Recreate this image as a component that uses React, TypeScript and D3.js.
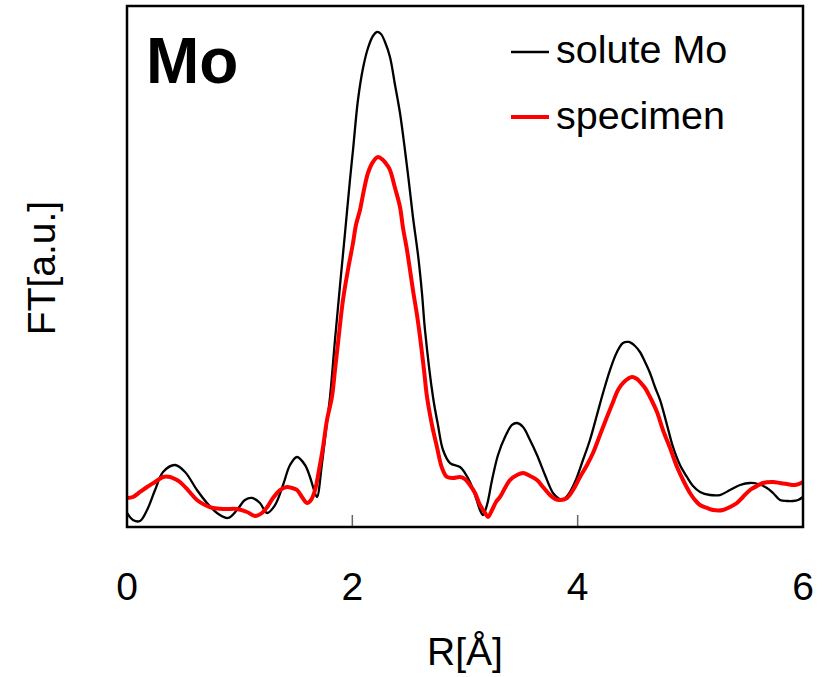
import React from "react";
import * as d3 from "d3";

// Fourier-transform magnitude (arbitrary units) vs radial distance R [Å]
const soluteR = [0, 0.053, 0.115, 0.178, 0.249, 0.32, 0.426, 0.515, 0.621, 0.71, 0.799, 0.896, 0.976, 1.047, 1.109, 1.18, 1.243, 1.314, 1.385, 1.447, 1.509, 1.58, 1.624, 1.66, 1.686, 1.731, 1.766, 1.802, 1.846, 1.891, 1.935, 1.979, 2.006, 2.05, 2.095, 2.139, 2.183, 2.219, 2.254, 2.29, 2.334, 2.379, 2.423, 2.467, 2.503, 2.538, 2.583, 2.618, 2.645, 2.716, 2.76, 2.805, 2.867, 2.956, 3.0, 3.044, 3.089, 3.133, 3.16, 3.195, 3.24, 3.293, 3.355, 3.417, 3.462, 3.515, 3.577, 3.639, 3.71, 3.781, 3.825, 3.861, 3.914, 3.976, 4.047, 4.109, 4.171, 4.225, 4.287, 4.349, 4.402, 4.455, 4.509, 4.553, 4.598, 4.642, 4.686, 4.731, 4.793, 4.846, 4.908, 4.97, 5.024, 5.086, 5.175, 5.263, 5.352, 5.441, 5.53, 5.601, 5.68, 5.734, 5.796, 5.858, 5.911, 5.956, 6.0];
const soluteFT = [2.69, 1.34, 1.15, 3.26, 7.1, 10.56, 11.9, 10.56, 7.1, 4.61, 2.69, 1.73, 3.26, 5.18, 5.57, 4.61, 2.69, 4.22, 8.06, 11.9, 13.44, 11.9, 9.6, 7.1, 5.76, 12.28, 18.62, 24.95, 35.89, 46.45, 56.43, 66.6, 72.36, 81.96, 88.1, 91.94, 94.24, 95.01, 94.63, 93.09, 90.21, 84.84, 79.46, 72.36, 66.03, 59.5, 52.21, 44.91, 37.81, 24.95, 19.58, 14.78, 12.28, 11.52, 10.36, 8.64, 6.14, 3.26, 2.3, 4.22, 9.02, 13.82, 17.27, 19.58, 19.96, 19.19, 16.7, 13.82, 9.98, 6.53, 5.57, 5.18, 6.14, 8.64, 12.86, 16.7, 21.5, 25.72, 30.13, 33.59, 35.32, 35.51, 34.74, 33.59, 31.67, 29.56, 26.87, 24.38, 19.58, 15.36, 11.9, 9.6, 7.87, 6.72, 6.14, 6.14, 7.1, 8.06, 8.45, 8.25, 7.49, 6.53, 5.18, 4.99, 4.99, 5.18, 5.76];

const specimenR = [0, 0.053, 0.115, 0.178, 0.249, 0.32, 0.382, 0.426, 0.47, 0.541, 0.621, 0.692, 0.763, 0.87, 0.976, 1.065, 1.136, 1.198, 1.251, 1.296, 1.358, 1.42, 1.464, 1.509, 1.553, 1.598, 1.633, 1.669, 1.704, 1.74, 1.775, 1.819, 1.846, 1.873, 1.917, 1.961, 2.006, 2.032, 2.068, 2.103, 2.139, 2.183, 2.228, 2.272, 2.308, 2.334, 2.379, 2.423, 2.45, 2.485, 2.512, 2.538, 2.574, 2.601, 2.636, 2.663, 2.707, 2.751, 2.796, 2.84, 2.893, 2.956, 3.0, 3.044, 3.089, 3.133, 3.178, 3.204, 3.24, 3.275, 3.311, 3.355, 3.399, 3.462, 3.515, 3.577, 3.639, 3.692, 3.754, 3.799, 3.843, 3.905, 3.959, 4.021, 4.083, 4.136, 4.198, 4.26, 4.314, 4.358, 4.411, 4.482, 4.527, 4.553, 4.598, 4.642, 4.704, 4.757, 4.82, 4.882, 4.944, 4.997, 5.041, 5.086, 5.148, 5.201, 5.29, 5.352, 5.414, 5.467, 5.53, 5.592, 5.645, 5.734, 5.796, 5.858, 5.929, 6.0];
const specimenFT = [5.57, 5.76, 6.72, 7.68, 8.64, 9.6, 9.6, 9.21, 8.64, 7.1, 5.18, 4.22, 3.65, 3.45, 3.45, 2.88, 2.11, 2.69, 4.03, 5.57, 7.1, 7.68, 7.49, 7.1, 5.76, 4.61, 5.18, 7.1, 10.94, 15.36, 20.54, 24.95, 30.13, 35.32, 43.57, 49.33, 54.51, 57.97, 60.84, 64.68, 67.95, 70.06, 71.02, 70.44, 69.48, 68.52, 65.07, 61.42, 57.39, 53.17, 49.33, 45.49, 40.69, 36.47, 30.13, 24.95, 19.58, 15.36, 11.32, 9.6, 9.4, 9.6, 9.21, 8.06, 6.53, 4.22, 2.69, 1.92, 3.26, 4.8, 5.76, 7.49, 9.02, 9.98, 10.36, 9.79, 9.02, 7.68, 6.14, 5.37, 5.18, 5.57, 7.1, 9.6, 11.9, 14.2, 17.66, 21.11, 23.99, 26.3, 27.83, 28.79, 28.41, 27.83, 26.68, 24.95, 22.07, 18.62, 15.16, 11.52, 8.64, 6.53, 5.18, 4.22, 3.65, 3.26, 3.26, 3.84, 4.61, 5.76, 7.1, 7.87, 8.45, 8.64, 8.45, 8.25, 8.06, 8.64];

const xTicks = [0, 2, 4, 6];
const seriesNames = ["solute Mo", "specimen"];
const seriesColors = ["#000000", "#ff0000"];
const panelLabel = "Mo";

const W = 827;
const H = 677;
const plot = { left: 127, right: 803, top: 6, bottom: 527 };
const font = "'Liberation Sans', Arial, Helvetica, sans-serif";

export default function App() {
  const x = d3.scaleLinear().domain([0, 6]).range([plot.left, plot.right]);
  const y = d3.scaleLinear().domain([0, 100]).range([plot.bottom, plot.top]);

  const line = d3
    .line<[number, number]>()
    .x((d) => x(d[0]))
    .y((d) => y(d[1]))
    .curve(d3.curveCatmullRom.alpha(0.5));

  const solute = soluteR.map((r, i) => [r, soluteFT[i]] as [number, number]);
  const specimen = specimenR.map((r, i) => [r, specimenFT[i]] as [number, number]);

  return (
    <svg
      width={W}
      height={H}
      style={{ position: "absolute", left: 0, top: 0, background: "#fff" }}
      fontFamily={font}
    >
      <defs>
        <clipPath id="plot-clip">
          <rect
            x={plot.left}
            y={plot.top}
            width={plot.right - plot.left}
            height={plot.bottom - plot.top}
          />
        </clipPath>
      </defs>
      <rect x={0} y={0} width={W} height={H} fill="#fff" />

      {/* inner ticks */}
      {xTicks.slice(1, -1).map((t) => (
        <line
          key={t}
          x1={x(t)}
          x2={x(t)}
          y1={plot.bottom}
          y2={plot.bottom - 12}
          stroke="#666"
          strokeWidth={1.5}
        />
      ))}

      <g clipPath="url(#plot-clip)">
        <path d={line(solute) || ""} fill="none" stroke={seriesColors[0]} strokeWidth={2.3} strokeLinejoin="round" />
        <path d={line(specimen) || ""} fill="none" stroke={seriesColors[1]} strokeWidth={4} strokeLinejoin="round" />
      </g>

      {/* frame */}
      <rect
        x={plot.left}
        y={plot.top}
        width={plot.right - plot.left}
        height={plot.bottom - plot.top}
        fill="none"
        stroke="#000"
        strokeWidth={2.5}
      />

      {/* tick labels */}
      {xTicks.map((t) => (
        <text key={t} x={x(t)} y={600} textAnchor="middle" fontSize={39} fill="#000">
          {t}
        </text>
      ))}

      {/* axis titles */}
      <text x={465} y={665} textAnchor="middle" fontSize={39} fill="#000">
        R[Å]
      </text>
      <text
        transform={`translate(55, 268) rotate(-90)`}
        textAnchor="middle"
        fontSize={39}
        fill="#000"
      >
        FT[a.u.]
      </text>

      {/* panel label */}
      <text x={146} y={83} fontSize={64} fontWeight="bold" fill="#000">
        {panelLabel}
      </text>

      {/* legend */}
      {seriesNames.map((name, i) => (
        <g key={name}>
          <line
            x1={511}
            x2={549}
            y1={52 + i * 65}
            y2={52 + i * 65}
            stroke={seriesColors[i]}
            strokeWidth={i === 0 ? 2.3 : 4}
          />
          <text x={556} y={63 + i * 66} fontSize={39.5} fill="#000">
            {name}
          </text>
        </g>
      ))}
    </svg>
  );
}
